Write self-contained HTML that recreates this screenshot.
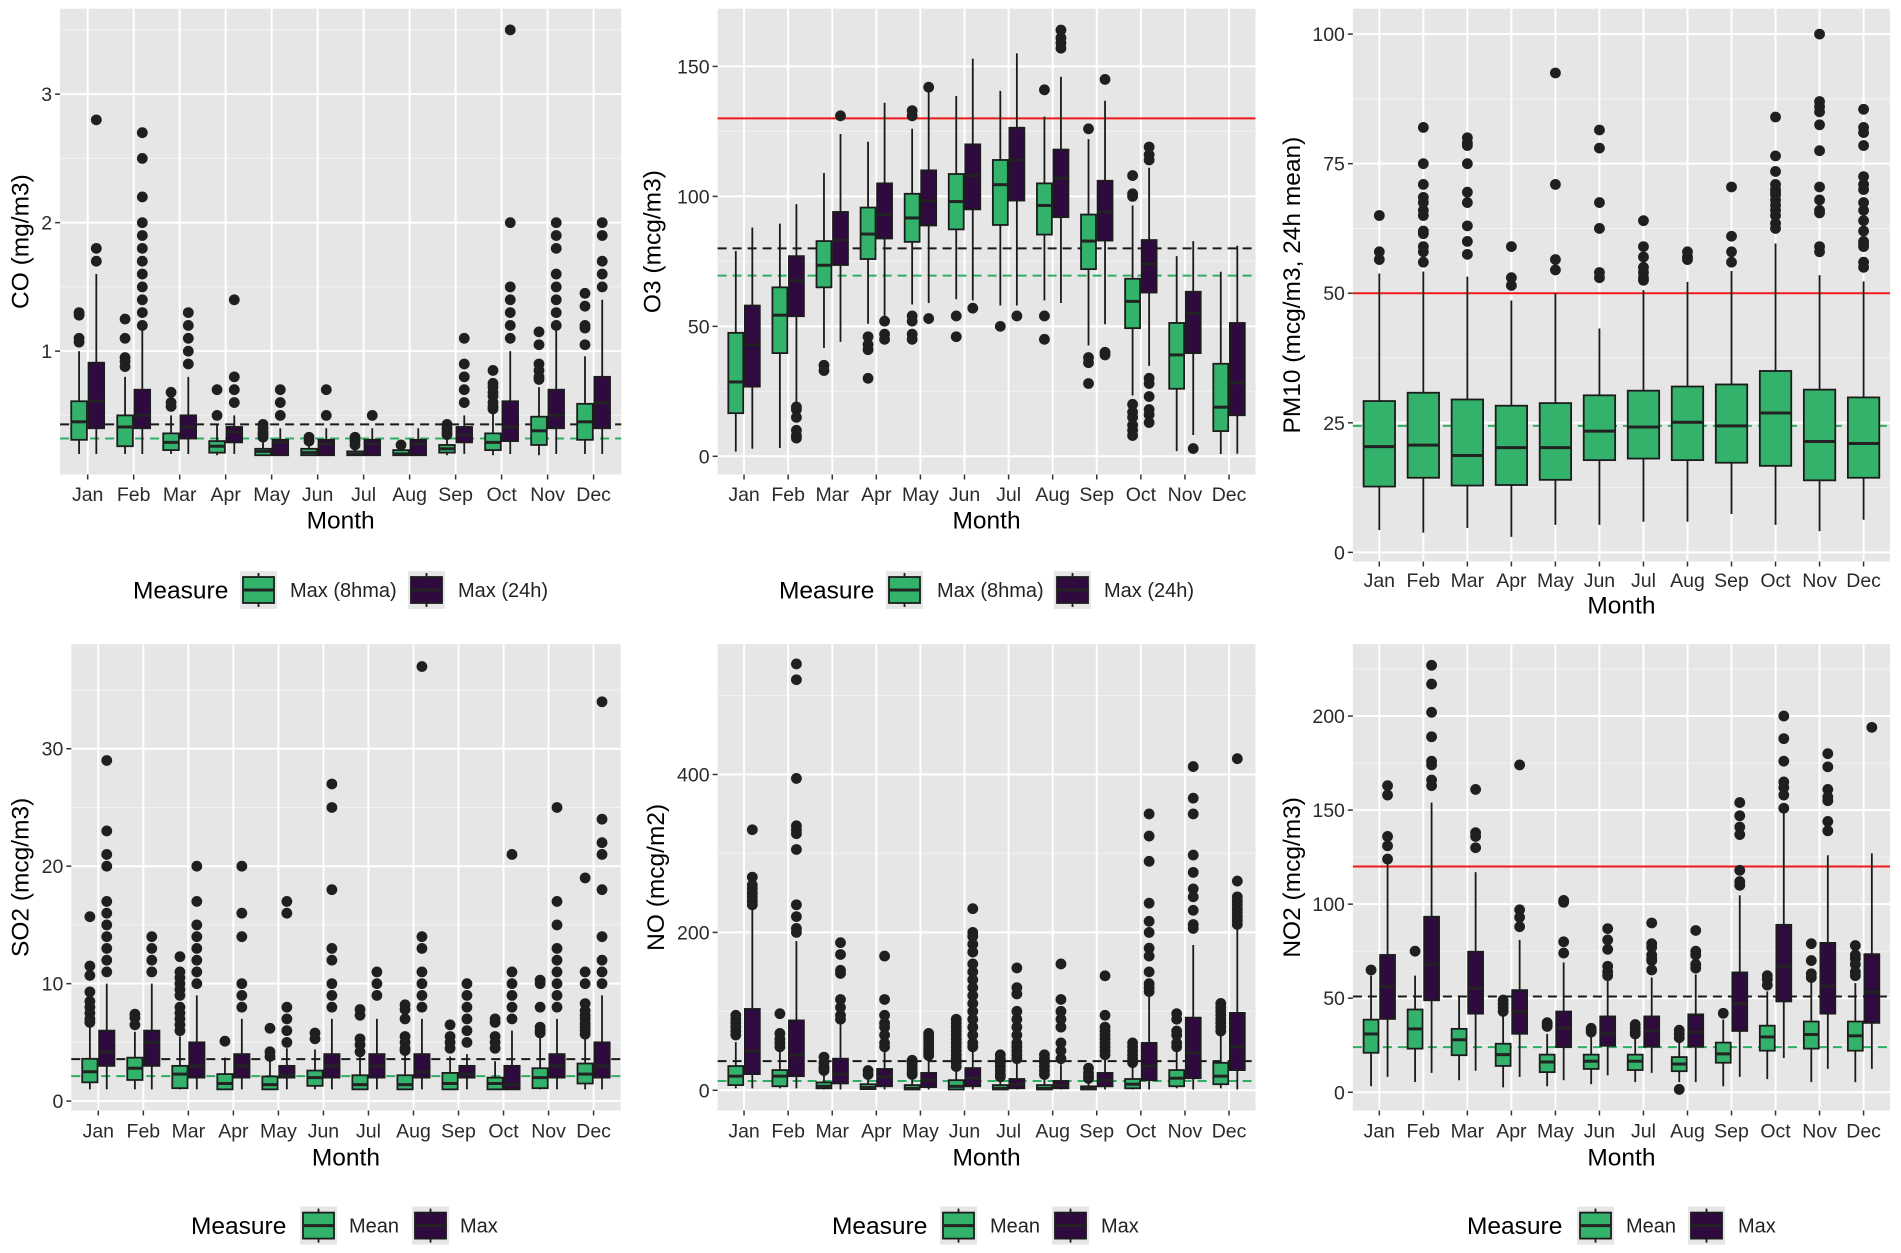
<!DOCTYPE html>
<html><head><meta charset="utf-8"><title>Monthly pollutant boxplots</title>
<style>
html,body{margin:0;padding:0;background:#fff;}
svg{display:block;font-family:"Liberation Sans",Arial,sans-serif;}
</style></head>
<body>
<svg id="fig" xmlns="http://www.w3.org/2000/svg" width="1901" height="1253" viewBox="0 0 1901 1253"></svg>
<script>
const months = ["Jan","Feb","Mar","Apr","May","Jun","Jul","Aug","Sep","Oct","Nov","Dec"];
// stats: [lowerWhisker, q1, median, q3, upperWhisker]
const coMaxStats8h = [[0.2,0.31,0.45,0.61,1.0],[0.2,0.26,0.41,0.5,0.8],[0.2,0.23,0.29,0.36,0.5],[0.19,0.21,0.26,0.3,0.43],[0.19,0.19,0.22,0.24,0.3],[0.19,0.19,0.21,0.24,0.28],[0.19,0.19,0.2,0.22,0.25],[0.19,0.19,0.2,0.23,0.24],[0.19,0.21,0.24,0.27,0.33],[0.19,0.23,0.29,0.36,0.52],[0.19,0.27,0.38,0.49,0.72],[0.2,0.31,0.45,0.59,0.96]];
const coMaxOut8h = [[1.3,1.28,1.1,1.07],[1.25,1.1,0.95,0.92,0.88],[0.68,0.6,0.57],[0.7,0.5],[0.43,0.4,0.37,0.35,0.33],[0.33,0.3],[0.33,0.3,0.27],[0.27],[0.43,0.4,0.37,0.35],[0.85,0.75,0.72,0.68,0.65,0.6,0.57,0.55],[1.15,1.05,0.9,0.85,0.8,0.78],[1.45,1.35,1.2,1.18,1.05]];
const coMaxStats24h = [[0.2,0.4,0.61,0.91,1.6],[0.2,0.4,0.5,0.7,1.18],[0.2,0.32,0.41,0.5,0.8],[0.2,0.29,0.37,0.41,0.5],[0.19,0.19,0.29,0.31,0.4],[0.19,0.19,0.28,0.31,0.4],[0.19,0.19,0.28,0.31,0.4],[0.19,0.19,0.28,0.31,0.4],[0.2,0.29,0.35,0.41,0.5],[0.2,0.3,0.41,0.61,1.0],[0.2,0.4,0.5,0.7,1.18],[0.2,0.4,0.6,0.8,1.4]];
const coMaxOut24h = [[2.8,1.8,1.7],[2.7,2.5,2.2,2.0,1.9,1.8,1.7,1.6,1.5,1.4,1.3,1.2],[1.3,1.2,1.1,1.0,0.9],[1.4,0.8,0.7,0.6],[0.7,0.6,0.5],[0.7,0.5],[0.5],[],[1.1,0.9,0.8,0.7,0.6],[3.5,2.0,1.5,1.4,1.3,1.2,1.1],[2.0,1.9,1.8,1.6,1.5,1.4,1.3,1.2],[2.0,1.9,1.7,1.6,1.5]];
const coRefs = [0.43,0.32];
const coTicks = [1,2,3];

const o3Stats8h = [[1.8,16.6,28.6,47.5,79],[3.2,39.7,54.3,65,89.5],[41.7,65,73.5,82.8,109],[51,75.9,85.5,95.7,121],[58.4,82.5,91.7,101,126],[60.4,87.3,98,108.6,138.6],[58,89,104.5,114,140.6],[60,85.3,96.5,105,130.7],[42.7,72,82.8,93,122],[23.4,49.3,59.6,68.3,96.5],[2,26,39,51.3,77],[0.9,9.7,18.9,35.6,71]];
const o3Out8h = [[],[],[35,33],[46,43,41,30],[133,131,54,52,47,45],[54,46],[50],[141,54,45],[126,38,36,28],[108,101,100,20,17,15,12,10,8],[],[]];
const o3Stats24h = [[2.9,26.8,42.9,58,88],[21,53.9,67.5,77,97],[44,73.6,83.2,94,124],[50.8,83.8,93,105,136],[59,88.8,98.3,110,140],[60,95,108,120,153],[58,98.4,114,126.4,155],[59,92,107,118,146],[50.8,83,94,106,136.8],[34.8,63,74,83.2,111],[8.2,39.7,55,63.3,82.8],[1,15.8,28.3,51.3,81]];
const o3Out24h = [[],[19,18,15,10,8,7],[131],[52,47,45],[142,53],[57],[54],[164,161,159,157],[145,40,39],[119,116,114,30,28,23,18,16,13],[3],[]];
const o3Refs = [130,80,69.5];
const o3Ticks = [0,50,100,150];

const pm10Stats = [[4.3,12.7,20.4,29.2,53.8],[3.8,14.4,20.7,30.8,54.2],[4.7,12.9,18.7,29.5,53.2],[3,13,20.2,28.3,48.6],[5.3,14,20.2,28.8,50],[5.3,17.8,23.4,30.3,43.2],[5.9,18.1,24.2,31.2,50.6],[5.9,17.8,25.1,32,52.2],[7.4,17.3,24.4,32.4,54.3],[5.3,16.7,26.9,35,59.6],[4.1,13.9,21.4,31.4,53.5],[6.3,14.4,21,29.9,52.3]];
const pm10Out = [[65,58,56.5],[82,75,71,68.5,67.5,66,65,62,61.5,59,58,56],[80,79,78.5,75,69.5,67.5,63,60,57.5],[59,53,51.5],[92.5,71,56.5,54.5],[81.5,78,67.5,62.5,54,53],[64,59,57,55,54,53,52.5],[58,57,56.5],[70.5,61,58,56],[84,76.5,73.5,71,70,69.5,69,68,67,66,65,63.5,62.5],[100,87,86,85,82.5,77.5,70.5,68,66,65.5,59,58],[85.5,82,81,78.5,72.5,71,70,67.5,66,64,62,60,59.5,59,56,55]];
const pm10Refs = [50,24.4];
const pm10Ticks = [0,25,50,75,100];

const so2MeanStats = [[1,1.6,2.5,3.6,6.5],[1,1.8,2.8,3.7,5.9],[1,1.1,2.3,3.0,5.5],[1,1,1.5,2.3,3.7],[1,1,1.4,2.1,3.5],[1,1.3,2,2.6,4.4],[1,1,1.4,2.2,3.8],[1,1,1.4,2.2,4.2],[1,1,1.5,2.4,3.8],[1,1,1.5,2.0,3.4],[1,1.1,2,2.8,5.6],[1,1.5,2.3,3.2,5.4]];
const so2MeanOut = [[15.7,11.5,10.7,9.3,8.5,8,7.5,7,6.7],[7.4,7.1,6.5],[12.3,11,10.5,10,9.5,9,8,7.5,7,6.5,6],[5.1],[6.2,4.2,3.8],[5.8,5.3],[7.8,7.3,5.3,4.8,4.2],[8.2,7.8,7,5.5,5,4.5,4.3],[6.5,5.5,5,4.5],[7,6.7,5.5,5,4.5],[10.3,10,8,6.3,6,5.8],[19,11,10,8.3,7.7,7.3,7,6.6,6.3,6,5.7]];
const so2MaxStats = [[1,3,4.2,6,10],[1,3,5,6,10],[1,2,3,5,9],[1,2,3,4,7],[1,2,2.2,3,4.5],[1,2,3,4,7],[1,2,3,4,7],[1,2,2.5,4,7],[1,2,2.3,3,4],[1,1,1.4,3,6],[1,2,3,4,7],[1,2,3,5,9]];
const so2MaxOut = [[29,23,21,20,17,16,15,14,13,12,11],[14,13,12,11],[20,17,15,14,13,12,11,10],[20,16,14,10,9,8],[17,16,8,7,6,5],[27,25,18,13,12,10,9,8],[11,10,9],[37,14,13,11,10,9,8],[10,9,8,7,6,5],[21,11,10,9,8,7],[25,17,15,13,12,11,10,9,8],[34,24,22,21,18,14,12,11,10]];
const so2Refs = [3.57,2.13];
const so2Ticks = [0,10,20,30];

const noMeanStats = [[2.5,6.6,17.9,30.7,61],[2.5,5.1,17.9,25.6,53.7],[1,2.5,5,10,23],[1,1.5,3.6,7.7,18],[0.5,1,2.5,6.6,18],[0.5,1,5,12.8,28],[0.5,1,2.5,6.6,15],[0.5,1,2.5,6.6,15],[0.5,1,2.5,5,13],[1,2.5,7.7,14.3,33],[2.5,5.1,15.3,25.6,53.7],[2.5,7.7,17.9,34.8,69]];
const noMeanOut = [[95,90,85,80,75,70],[97,72,65,60,55],[42,35,30,28,25],[25,20],[38,34,30,26,22,20],[90,85,80,75,70,65,60,55,50,45,40,35,30],[45,40,35,30,25,20,17],[45,40,35,30,25,20],[28,22,18,15],[60,55,50,45,40,35],[97,90,75,70,60,55],[110,105,100,95,90,85,80,75]];
const noMaxStats = [[2.5,20.5,49.6,103,230],[2.5,17.9,44.5,88.5,189],[1,8.7,20.5,40,84],[1,5.1,17,27,53.7],[1,4,12.8,22,41],[1,5.1,15.3,28.1,48.6],[1,2.5,7.7,14.3,38],[1,2.5,6.6,11.8,33],[1,5,12.8,22,41],[1,12.8,30.7,60,123],[1,15.3,47.6,92,184],[1,25.6,55,98,215]];
const noMaxOut = [[330,270,260,255,250,245,240,235],[540,520,395,335,330,325,305,235,220,205,200],[187,172,152,148,115,105,95,90],[170,115,95,85,80,70,60,55],[72,68,64,60,56,52,48,44],[230,200,195,185,175,160,150,140,130,120,110,100,90,80,70,60,55],[155,130,122,100,90,80,70,60,55,50,45,40],[160,115,100,90,80,60,50,40],[145,95,80,75,70,65,60,55,50,45],[350,322,290,237,214,200,180,170,150,135,130,125],[410,370,350,298,276,255,245,228,210,205],[420,265,245,240,235,230,225,220,215,210]];
const noRefs = [37,11.8];
const noTicks = [0,200,400];

const no2MeanStats = [[3.2,21,31,38.6,62],[5.4,23.2,33.7,44,62],[6.4,19.7,27.9,33.7,51.5],[2.6,14,20,25.8,41.8],[3.2,10.7,16.1,20,31],[4.3,12.4,16.5,20,30],[5.4,11.8,16.5,20,29],[5.4,11.2,15,18.7,27.9],[3.2,15.7,20.4,26.4,38.6],[7,22.1,29.4,35.4,53.6],[5.4,23.2,30.7,37.6,60],[5.4,22.1,30,37.6,58]];
const no2MeanOut = [[65],[75],[],[49,47,45,43],[37,36,35],[34,33,32],[36,34,32,31],[33,31,29,1.5],[42],[62,60,57],[79,70,63,61],[78,73,71,68,64,62]];
const no2MaxStats = [[8.2,39,56.2,73,124.5],[10.3,48.9,68,93.3,154],[11.4,41.8,55.2,74.7,117],[8.2,31.1,42.9,54.3,81],[6.4,24,34.3,42.9,69],[9,24.7,31.1,40.3,61],[10.3,24.2,32.6,40.3,61],[5.4,24.2,31.8,41.4,62.7],[8.2,32.6,47.2,63.7,104.7],[18.2,48.3,67,89,151],[12.4,41.8,56.4,79.4,126],[12.4,36.9,53.2,73.4,127]];
const no2MaxOut = [[163,158,136,131,124],[227,217,202,189,176,174,166,163],[161,138,136,130],[174,97,93,88],[102,101,80,74],[87,81,76,67,64,62],[90,79,77,73,71,70,65],[86,75,73,68,66],[154,147,141,137,118,112,110],[200,188,176,165,162,158,151],[180,173,161,157,155,144,139],[194]];
const no2Refs = [120,50.9,24];
const no2Ticks = [0,50,100,150,200];

const GREEN = "#33B26B", PURPLE = "#2E0A3F";
const NS = "http://www.w3.org/2000/svg";
const svg = document.getElementById("fig");

function mk(parent, tag, attrs, text){
  const e = document.createElementNS(NS, tag);
  for (const k in attrs) e.setAttribute(k, attrs[k]);
  if (text !== undefined) e.textContent = text;
  parent.appendChild(e);
  return e;
}

function drawPanel(p){
  const g = mk(svg, "g", {});
  
  
  const W = p.right - p.left, H = p.bottom - p.top;
  const yS = v => p.bottom - (v - p.ymin) / (p.ymax - p.ymin) * H;
  const step = W / 12.2;
  const xS = i => p.left + (0.6 + i) * step;

  const bg = mk(g, "rect", {x:p.left, y:p.top, width:W, height:H, fill:"#E6E6E6"});
  
  

  const tStep = p.ticks[1] - p.ticks[0];
  for (let v = p.ticks[0] - tStep/2; v <= p.ymax; v += tStep){
    if (v < p.ymin) continue;
    const ln = mk(g, "line", {x1:p.left, x2:p.right, y1:yS(v), y2:yS(v), stroke:"#F2F2F2", "stroke-width":1});
    
    
  }
  p.ticks.forEach(v => {
    const ln = mk(g, "line", {x1:p.left, x2:p.right, y1:yS(v), y2:yS(v), stroke:"#fff", "stroke-width":2});
    
    
    const tk = mk(g, "line", {x1:p.left-5, x2:p.left, y1:yS(v), y2:yS(v), stroke:"#333", "stroke-width":1.5});
    
    
    const lb = mk(g, "text", {x:p.left-8, y:yS(v)+7, "text-anchor":"end", "font-size":19.5, fill:"#2a2a2a"}, String(v));
    
    
  });
  months.forEach((m, i) => {
    const ln = mk(g, "line", {x1:xS(i), x2:xS(i), y1:p.top, y2:p.bottom, stroke:"#fff", "stroke-width":2});
    
    
    const tk = mk(g, "line", {x1:xS(i), x2:xS(i), y1:p.bottom, y2:p.bottom+5, stroke:"#333", "stroke-width":1.5});
    
    
    const lb = mk(g, "text", {x:xS(i), y:p.xLabelY+7, "text-anchor":"middle", "font-size":19.5, fill:"#2a2a2a"}, m);
    
    
  });

  p.refs.forEach((v, k) => {
    const st = p.refStyles[k];
    const ln = mk(g, "line", {x1:p.left, x2:p.right, y1:yS(v), y2:yS(v), stroke:st.c, "stroke-width":st.w, "stroke-dasharray":st.d || "none"});
    
    
  });

  const n = p.series.length;
  const bw = 0.75 * step / n;
  p.series.forEach((s, si) => {
    const off = n === 1 ? 0 : (si === 0 ? -bw/2 : bw/2);
    s.stats.forEach((st, i) => {
      const cx = xS(i) + off;
      const [lo, q1, md, q3, hi] = st;
      const wl = mk(g, "line", {x1:cx, x2:cx, y1:yS(hi), y2:yS(lo), stroke:"#1a1a1a", "stroke-width":1.8});
      
      
      const bx = mk(g, "rect", {x:cx-bw/2+0.8, y:yS(q3), width:bw-1.6, height:Math.max(1, yS(q1)-yS(q3)), fill:s.fill, stroke:"#1c1c1c", "stroke-width":1.8});
      
      
      const ml = mk(g, "line", {x1:cx-bw/2+0.8, x2:cx+bw/2-0.8, y1:yS(md), y2:yS(md), stroke:"#222", "stroke-width":3});
      
      
      s.outs[i].forEach(v => {
        const c = mk(g, "circle", {cx:cx, cy:yS(v), r:5.4, fill:"#1f1f1f"});
        
        
      });
    });
  });

  const xt = mk(g, "text", {x:(p.left+p.right)/2, y:p.xTitleY+8.5, "text-anchor":"middle", "font-size":24.5, fill:"#000"}, "Month");
  
  
  const cy = (p.top+p.bottom)/2;
  const yt = mk(g, "text", {x:p.titleX, y:cy, "text-anchor":"middle", "font-size":24.5, fill:"#000", transform:`rotate(-90 ${p.titleX} ${cy}) translate(0 8.5)`}, p.title);
  
  

  if (p.legend){
    const L = p.legend, ly = L.y;
    const lg = mk(svg, "g", {});
    
    
    const t = mk(lg, "text", {x:L.tx, y:ly+8.5, "font-size":24.5, fill:"#000"}, "Measure");
    
    
    L.keys.forEach((k, ki) => {
      const kg = mk(lg, "g", {});
      
      
      mk(kg, "rect", {x:k.x, y:ly-19, width:37, height:38, fill:"#E6E6E6"});
      const kx = k.x + 18.5;
      mk(kg, "line", {x1:kx, x2:kx, y1:ly-17, y2:ly+17, stroke:"#1a1a1a", "stroke-width":1.8});
      mk(kg, "rect", {x:k.x+3, y:ly-13, width:31, height:26, fill:k.fill, stroke:"#1c1c1c", "stroke-width":1.8});
      mk(kg, "line", {x1:k.x+3, x2:k.x+34, y1:ly, y2:ly, stroke:"#222", "stroke-width":3});
      const lt = mk(kg, "text", {x:k.lx, y:ly+7, "font-size":20, fill:"#222"}, k.label);
      
      
    });
  }
}

const blackDash = {c:"#1a1a1a", w:2, d:"9,6"};
const greenDash = {c:"#2FAE63", w:2, d:"9,6"};
const red = {c:"#F01818", w:2};

drawPanel({id:"co", left:60.1, right:621.2, top:8.7, bottom:474.5, ymin:0.04, ymax:3.665, ticks:coTicks,
  title:"CO (mg/m3)", titleX:20, xLabelY:494, xTitleY:520, refs:coRefs, refStyles:[blackDash, greenDash],
  series:[{stats:coMaxStats8h, outs:coMaxOut8h, fill:GREEN, name:"max-8hma"},{stats:coMaxStats24h, outs:coMaxOut24h, fill:PURPLE, name:"max-24h"}],
  legend:{y:590, tx:133, keys:[{x:240, lx:290, fill:GREEN, label:"Max (8hma)"},{x:408, lx:458, fill:PURPLE, label:"Max (24h)"}]}});

drawPanel({id:"o3", left:717.6, right:1255.5, top:8.7, bottom:474.5, ymin:-7.0, ymax:172.2, ticks:o3Ticks,
  title:"O3 (mcg/m3)", titleX:652, xLabelY:494, xTitleY:520, refs:o3Refs, refStyles:[red, blackDash, greenDash],
  series:[{stats:o3Stats8h, outs:o3Out8h, fill:GREEN, name:"max-8hma"},{stats:o3Stats24h, outs:o3Out24h, fill:PURPLE, name:"max-24h"}],
  legend:{y:590, tx:779, keys:[{x:886, lx:937, fill:GREEN, label:"Max (8hma)"},{x:1054, lx:1104, fill:PURPLE, label:"Max (24h)"}]}});

drawPanel({id:"pm10", left:1352.9, right:1890, top:8.7, bottom:561.5, ymin:-1.76, ymax:104.9, ticks:pm10Ticks,
  title:"PM10 (mcg/m3, 24h mean)", titleX:1291.5, xLabelY:580, xTitleY:605, refs:pm10Refs, refStyles:[red, greenDash],
  series:[{stats:pm10Stats, outs:pm10Out, fill:GREEN, name:"pm10"}]});

drawPanel({id:"so2", left:71.3, right:620.6, top:644.2, bottom:1110.5, ymin:-0.8, ymax:38.9, ticks:so2Ticks,
  title:"SO2 (mcg/m3)", titleX:20, xLabelY:1130.7, xTitleY:1157, refs:so2Refs, refStyles:[blackDash, greenDash],
  series:[{stats:so2MeanStats, outs:so2MeanOut, fill:GREEN, name:"mean"},{stats:so2MaxStats, outs:so2MaxOut, fill:PURPLE, name:"max"}],
  legend:{y:1225.6, tx:191, keys:[{x:300, lx:349, fill:GREEN, label:"Mean"},{x:412, lx:460, fill:PURPLE, label:"Max"}]}});

drawPanel({id:"no", left:717.6, right:1255.5, top:644.2, bottom:1110.5, ymin:-25.6, ymax:565, ticks:noTicks,
  title:"NO (mcg/m2)", titleX:655.5, xLabelY:1130.7, xTitleY:1157, refs:noRefs, refStyles:[blackDash, greenDash],
  series:[{stats:noMeanStats, outs:noMeanOut, fill:GREEN, name:"mean"},{stats:noMaxStats, outs:noMaxOut, fill:PURPLE, name:"max"}],
  legend:{y:1225.6, tx:832, keys:[{x:940, lx:990, fill:GREEN, label:"Mean"},{x:1052, lx:1101, fill:PURPLE, label:"Max"}]}});

drawPanel({id:"no2", left:1352.9, right:1890, top:644.2, bottom:1110.5, ymin:-9.7, ymax:238.2, ticks:no2Ticks,
  title:"NO2 (mcg/m3)", titleX:1291.5, xLabelY:1130.7, xTitleY:1157, refs:no2Refs, refStyles:[red, blackDash, greenDash],
  series:[{stats:no2MeanStats, outs:no2MeanOut, fill:GREEN, name:"mean"},{stats:no2MaxStats, outs:no2MaxOut, fill:PURPLE, name:"max"}],
  legend:{y:1225.6, tx:1467, keys:[{x:1577, lx:1626, fill:GREEN, label:"Mean"},{x:1688, lx:1738, fill:PURPLE, label:"Max"}]}});
</script>
</body></html>
